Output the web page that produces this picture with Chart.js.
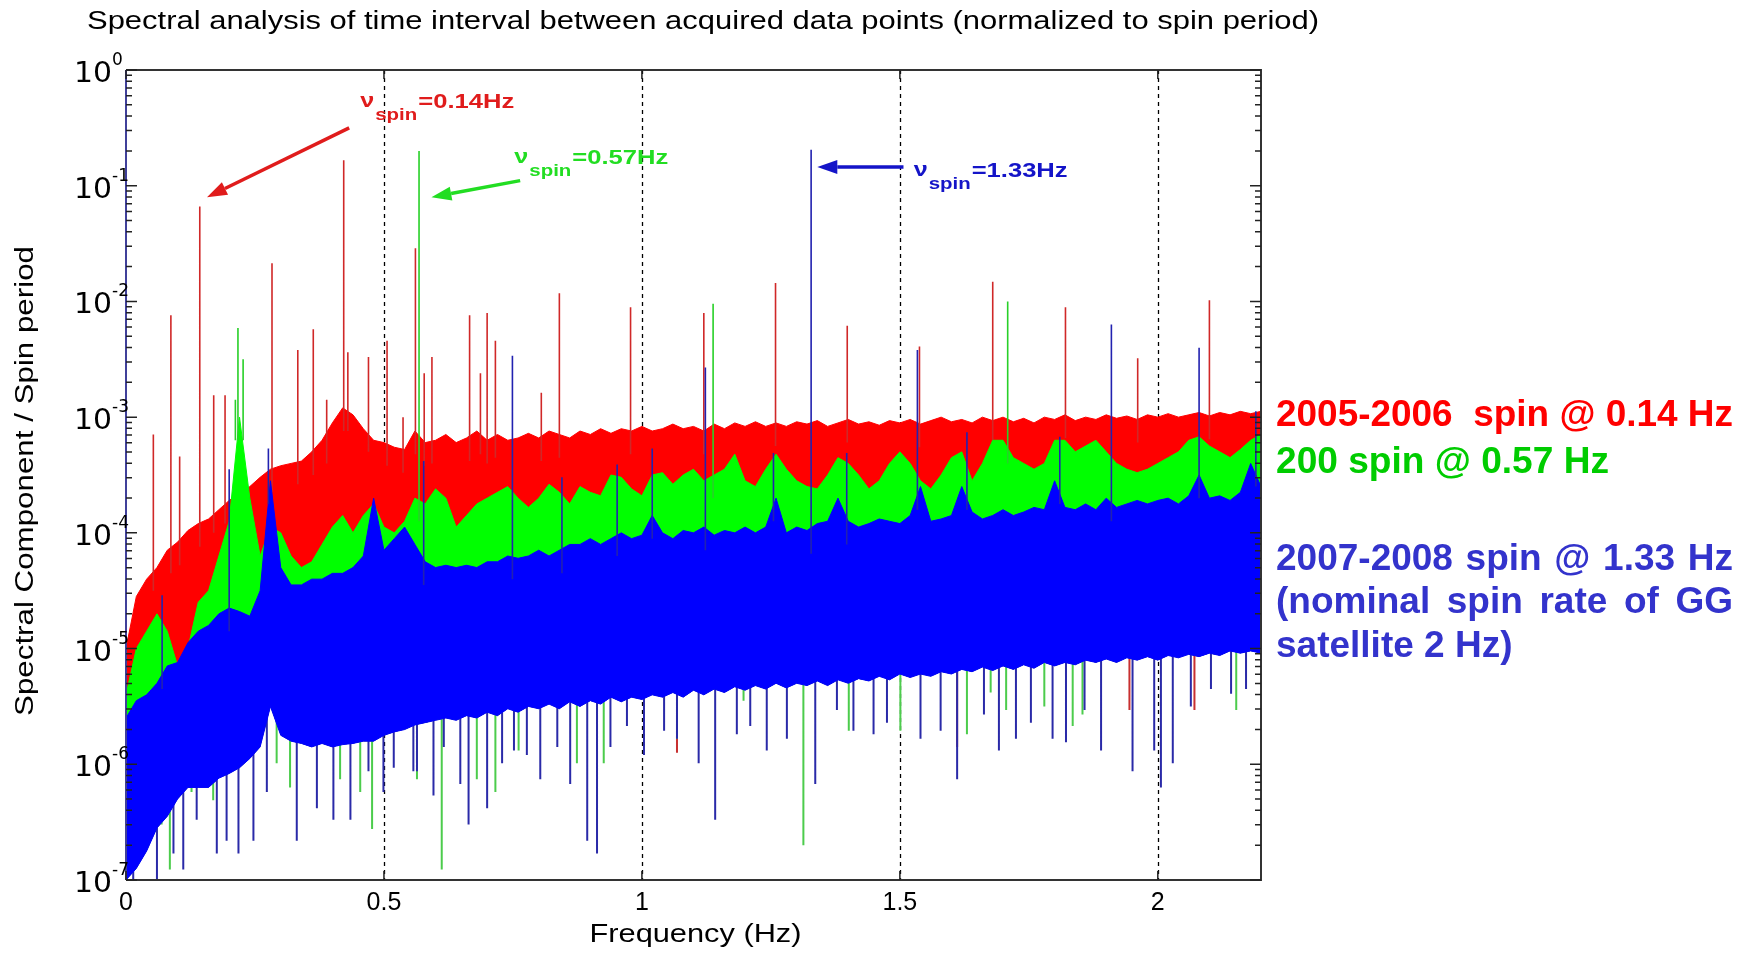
<!DOCTYPE html>
<html>
<head>
<meta charset="utf-8">
<title>Spectral analysis of time interval</title>
<script src="https://cdn.jsdelivr.net/npm/chart.js@4.4.1/dist/chart.umd.min.js"></script>
<style>
  html, body { margin: 0; padding: 0; background: #fff; }
  #wrap { position: relative; width: 1753px; height: 953px; }
</style>
</head>
<body>
<div id="wrap"><canvas id="spectrum"></canvas></div>
<script>
// Частотна сітка (Hz)
const freq = [
  0, 0.02, 0.04, 0.06, 0.08, 0.1, 0.12, 0.14, 0.16, 0.18,
  0.2, 0.22, 0.24, 0.26, 0.28, 0.3, 0.32, 0.34, 0.36, 0.38,
  0.4, 0.42, 0.44, 0.46, 0.48, 0.5, 0.52, 0.54, 0.56, 0.58,
  0.6, 0.62, 0.64, 0.66, 0.68, 0.7, 0.72, 0.74, 0.76, 0.78,
  0.8, 0.82, 0.84, 0.86, 0.88, 0.9, 0.92, 0.94, 0.96, 0.98,
  1.0, 1.02, 1.04, 1.06, 1.08, 1.1, 1.12, 1.14, 1.16, 1.18,
  1.2, 1.22, 1.24, 1.26, 1.28, 1.3, 1.32, 1.34, 1.36, 1.38,
  1.4, 1.42, 1.44, 1.46, 1.48, 1.5, 1.52, 1.54, 1.56, 1.58,
  1.6, 1.62, 1.64, 1.66, 1.68, 1.7, 1.72, 1.74, 1.76, 1.78,
  1.8, 1.82, 1.84, 1.86, 1.88, 1.9, 1.92, 1.94, 1.96, 1.98,
  2.0, 2.02, 2.04, 2.06, 2.08, 2.1, 2.12, 2.14, 2.16, 2.18,
  2.2
];

// Верхня межа спектра, log10 (2005-2006, spin 0.14 Hz)
const redTopExp = [
  -5.0, -4.55, -4.4, -4.3, -4.15, -4.08, -3.98, -3.92, -3.88, -3.8,
  -3.72, -3.66, -3.6, -3.52, -3.45, -3.42, -3.4, -3.38, -3.3, -3.2,
  -3.05, -2.92, -2.98, -3.1, -3.2, -3.22, -3.26, -3.28, -3.12, -3.22,
  -3.2, -3.15, -3.22, -3.18, -3.12, -3.2, -3.15, -3.2, -3.18, -3.14,
  -3.18, -3.12, -3.15, -3.18, -3.12, -3.15, -3.1, -3.14, -3.1, -3.12,
  -3.08, -3.12, -3.1, -3.06, -3.1, -3.08, -3.12, -3.06, -3.1, -3.05,
  -3.08, -3.04, -3.08, -3.05, -3.08, -3.04, -3.06, -3.03, -3.08, -3.05,
  -3.02, -3.06, -3.04, -3.07, -3.03, -3.05, -3.02, -3.06, -3.03, -3.0,
  -3.04, -3.02, -3.05, -3.0, -3.03, -3.0, -3.04, -3.01, -3.05, -3.0,
  -3.02, -2.98, -3.03, -3.0, -3.02, -2.98, -3.01, -2.99, -3.02, -2.98,
  -3.0, -2.97, -3.0, -2.98, -2.96, -2.99, -2.96, -2.98, -2.95, -2.97,
  -2.95
];

// Верхня межа спектра, log10 (200, spin 0.57 Hz)
const greenTopExp = [
  -5.4, -5.0, -4.85, -4.7, -4.85, -5.15, -5.0, -4.6, -4.5, -4.2,
  -3.9, -3.0, -3.7, -4.2, -3.95, -4.0, -4.2, -4.3, -4.25, -4.1,
  -3.95, -3.85, -4.0, -3.85, -3.75, -3.95, -4.0, -3.9, -3.7, -3.75,
  -3.62, -3.7, -3.95, -3.85, -3.75, -3.7, -3.65, -3.6, -3.7, -3.78,
  -3.7, -3.58, -3.65, -3.75, -3.6, -3.65, -3.68, -3.5, -3.52, -3.62,
  -3.68, -3.5, -3.48, -3.58, -3.5, -3.45, -3.55, -3.5, -3.45, -3.32,
  -3.55, -3.6, -3.45, -3.32, -3.45, -3.55, -3.6, -3.62, -3.5, -3.35,
  -3.4, -3.5, -3.62, -3.55, -3.4, -3.3, -3.4, -3.55, -3.62, -3.5,
  -3.35, -3.3, -3.55, -3.4, -3.2, -3.2, -3.35, -3.4, -3.45, -3.4,
  -3.2, -3.2, -3.3, -3.25, -3.2, -3.3, -3.4, -3.45, -3.48, -3.45,
  -3.4, -3.35, -3.3, -3.2, -3.17, -3.25, -3.3, -3.35, -3.28, -3.2,
  -3.15
];

// Верхня межа спектра, log10 (2007-2008, spin 1.33 Hz)
const blueTopExp = [
  -5.6, -5.45, -5.4, -5.3, -5.15, -5.12, -4.95, -4.85, -4.8, -4.7,
  -4.65, -4.68, -4.72, -4.5, -3.55, -4.3, -4.45, -4.45, -4.4, -4.4,
  -4.35, -4.35, -4.3, -4.2, -3.7, -4.15, -4.05, -3.95, -4.1, -4.25,
  -4.3, -4.28, -4.3, -4.28, -4.3, -4.25, -4.25, -4.2, -4.22, -4.2,
  -4.15, -4.2, -4.15, -4.1, -4.1, -4.05, -4.1, -4.05, -4.0, -4.05,
  -4.02, -3.85, -4.0, -4.05, -3.98, -4.0, -3.95, -4.02, -3.98, -4.0,
  -3.95, -4.0, -3.95, -3.7, -4.0, -3.95, -3.98, -3.92, -3.9, -3.7,
  -3.9, -3.95, -3.92, -3.88, -3.9, -3.92, -3.85, -3.6, -3.9, -3.88,
  -3.85, -3.6, -3.82, -3.88, -3.85, -3.8, -3.85, -3.82, -3.78, -3.8,
  -3.55, -3.78, -3.8, -3.75, -3.8, -3.7, -3.78, -3.75, -3.72, -3.75,
  -3.72, -3.7, -3.75, -3.68, -3.5, -3.7, -3.68, -3.72, -3.65, -3.4,
  -3.6
];

// Нижня межа суцільної смуги, log10
const blueLowExp = [
  -7.0, -6.9, -6.75, -6.55, -6.45, -6.3, -6.2, -6.2, -6.2, -6.12,
  -6.08, -6.03, -5.95, -5.85, -5.5, -5.75, -5.8, -5.82, -5.85, -5.82,
  -5.85, -5.83, -5.82, -5.8, -5.8, -5.75, -5.72, -5.7, -5.66, -5.64,
  -5.62, -5.6, -5.62, -5.58, -5.6, -5.55, -5.58, -5.52, -5.55, -5.5,
  -5.52, -5.48, -5.52, -5.46, -5.5, -5.45, -5.48, -5.42, -5.46, -5.42,
  -5.44, -5.4, -5.42, -5.38, -5.42, -5.36, -5.4, -5.35, -5.38, -5.33,
  -5.36, -5.32, -5.35, -5.3, -5.34, -5.3, -5.32, -5.28, -5.32, -5.27,
  -5.3, -5.26, -5.28, -5.24, -5.27, -5.22, -5.25, -5.22, -5.24, -5.2,
  -5.22, -5.18, -5.2, -5.16, -5.19, -5.15, -5.18, -5.14, -5.17, -5.12,
  -5.15, -5.12, -5.14, -5.1, -5.12, -5.09, -5.12, -5.08, -5.1, -5.07,
  -5.1, -5.06, -5.08, -5.05, -5.07, -5.04, -5.06, -5.02, -5.04, -5.02,
  -5.04
];

// Окремі піки [частота, log10]
const redPeaks = [
  [0.053, -3.15], [0.087, -2.12], [0.104, -3.34], [0.143, -1.18], [0.17, -2.81],
  [0.192, -2.81], [0.283, -1.67], [0.333, -2.42], [0.363, -2.24], [0.389, -2.85],
  [0.422, -0.78], [0.43, -2.44], [0.47, -2.48], [0.506, -2.34], [0.537, -3.0],
  [0.561, -1.54], [0.578, -2.62], [0.593, -2.48], [0.666, -2.12], [0.687, -2.62],
  [0.7, -2.1], [0.716, -2.34], [0.805, -2.79], [0.84, -1.93], [0.978, -2.05],
  [1.12, -2.1], [1.259, -1.84], [1.398, -2.21], [1.538, -2.39], [1.68, -1.83],
  [1.821, -2.05], [1.961, -2.49], [2.1, -1.99]
];
const greenPeaks = [
  [0.212, -2.85], [0.217, -2.23], [0.227, -2.5], [0.568, -0.7], [1.138, -2.02], [1.709, -2.0]
];
const bluePeaks = [
  [0.07, -4.54], [0.2, -3.45], [0.276, -3.27], [0.577, -3.38], [0.749, -2.47], [0.845, -3.52],
  [0.952, -3.41], [1.02, -3.27], [1.123, -2.57], [1.255, -3.31], [1.328, -0.69],
  [1.397, -3.31], [1.534, -2.42], [1.63, -3.13], [1.81, -3.17], [1.91, -2.2],
  [2.08, -2.4], [2.19, -2.95]
];

// Провали вниз [частота, log10]
const blueDips = [
  [0.014, -7.0], [0.034, -6.77], [0.06, -7.0], [0.092, -6.77], [0.111, -6.91],
  [0.137, -6.48], [0.176, -6.77], [0.195, -6.66], [0.218, -6.77], [0.247, -6.66],
  [0.273, -6.24], [0.331, -6.66], [0.37, -6.38], [0.402, -6.48], [0.435, -6.48],
  [0.47, -6.06], [0.499, -6.24], [0.519, -6.03], [0.557, -6.06], [0.564, -6.06],
  [0.596, -6.27], [0.616, -5.85], [0.648, -6.17], [0.664, -6.52], [0.7, -6.38],
  [0.729, -5.99], [0.752, -5.88], [0.777, -5.92], [0.803, -6.13], [0.836, -5.85],
  [0.861, -6.17], [0.894, -6.66], [0.913, -6.77], [0.939, -5.85], [0.971, -5.67],
  [1.004, -5.92], [1.043, -5.71], [1.068, -5.78], [1.11, -5.99], [1.142, -6.48],
  [1.184, -5.74], [1.21, -5.67], [1.242, -5.88], [1.281, -5.78], [1.336, -6.17],
  [1.378, -5.53], [1.41, -5.71], [1.449, -5.74], [1.475, -5.64], [1.54, -5.78],
  [1.579, -5.71], [1.611, -6.13], [1.663, -5.57], [1.692, -5.88], [1.725, -5.78],
  [1.754, -5.64], [1.796, -5.78], [1.822, -5.81], [1.858, -5.53], [1.89, -5.88],
  [1.951, -6.06], [1.993, -5.88], [2.006, -6.2], [2.029, -5.99], [2.064, -5.5],
  [2.103, -5.35], [2.142, -5.39], [2.171, -5.35]
];
const greenDips = [
  [0.001, -6.98], [0.069, -6.52], [0.085, -6.91], [0.127, -6.24], [0.169, -6.31],
  [0.292, -5.99], [0.318, -6.2], [0.415, -6.13], [0.454, -6.24], [0.477, -6.56],
  [0.564, -6.13], [0.612, -6.91], [0.68, -6.13], [0.716, -6.24], [0.761, -5.88],
  [0.874, -5.99], [0.926, -5.99], [1.068, -5.78], [1.197, -5.45], [1.313, -6.7],
  [1.401, -5.71], [1.501, -5.71], [1.63, -5.74], [1.676, -5.38], [1.706, -5.53],
  [1.78, -5.5], [1.835, -5.67], [1.854, -5.57], [2.152, -5.53]
];
const redDips = [
  [1.068, -5.9], [1.611, -5.85], [1.945, -5.53], [2.071, -5.53]
];

// Підписи осей
const xTickValues = [0, 0.5, 1, 1.5, 2];
const xTickLabels = ['0', '0.5', '1', '1.5', '2'];
const yDecades = [0, -1, -2, -3, -4, -5, -6, -7];

const seriesText = [
  { text: '2005-2006  spin @ 0.14 Hz', color: '#ff0000', y: 426, width: 457, justify: false },
  { text: '200 spin @ 0.57 Hz', color: '#00cc00', y: 473, width: 333, justify: false },
  { text: '2007-2008 spin @ 1.33 Hz', color: '#3333cc', y: 570, width: 457, justify: true },
  { text: '(nominal spin rate of GG', color: '#3333cc', y: 613, width: 457, justify: true },
  { text: 'satellite 2 Hz)', color: '#3333cc', y: 657, width: 0, justify: false }
];

// Стрілки з підписом частоти обертання (координати в одиницях осей)
const spinNotes = [
  { label: '=0.14Hz', color: '#e01c1c', at: [0.454, -0.32], from: [0.4326, -0.50], to: [0.157, -1.10] },
  { label: '=0.57Hz', color: '#22dd22', at: [0.7527, -0.805], from: [0.764, -0.956], to: [0.592, -1.10] },
  { label: '=1.33Hz', color: '#1414c8', at: [1.5267, -0.917], from: [1.507, -0.839], to: [1.34, -0.839] }
];

const pow10 = e => Math.pow(10, e);

function nearestIndex(f) {
  let best = 0;
  for (let i = 1; i < freq.length; i++) {
    if (Math.abs(freq[i] - f) < Math.abs(freq[best] - f)) best = i;
  }
  return best;
}

function bandPoints(exps) {
  return freq.map((f, i) => ({ x: f, y: pow10(exps[i]) }));
}

// Вертикальні штрихи від краю смуги до значення
function strokePoints(list, edge, shift) {
  const pts = [];
  list.forEach(([f, e]) => {
    const base = edge[nearestIndex(f)] + shift;
    pts.push({ x: f, y: pow10(base) }, { x: f, y: pow10(e) }, { x: f, y: null });
  });
  return pts;
}

function fitText(ctx, txt, x, y, font, color, width, align) {
  ctx.save();
  ctx.font = font;
  ctx.fillStyle = color;
  ctx.textBaseline = 'alphabetic';
  ctx.textAlign = align || 'left';
  const w = ctx.measureText(txt).width;
  const sx = width ? width / w : 1;
  ctx.translate(x, y);
  ctx.scale(sx, 1);
  ctx.fillText(txt, 0, 0);
  ctx.restore();
}

function justifyText(ctx, txt, x, y, font, color, width) {
  ctx.save();
  ctx.font = font;
  ctx.fillStyle = color;
  ctx.textBaseline = 'alphabetic';
  ctx.textAlign = 'left';
  const words = txt.split(' ');
  const total = words.reduce((s, w) => s + ctx.measureText(w).width, 0);
  const gap = (width - total) / (words.length - 1);
  let cx = x;
  words.forEach(w => {
    ctx.fillText(w, cx, y);
    cx += ctx.measureText(w).width + gap;
  });
  ctx.restore();
}

function drawArrow(ctx, x1, y1, x2, y2, color) {
  const ang = Math.atan2(y2 - y1, x2 - x1);
  const headLen = 20, headW = 7;
  const bx = x2 - headLen * Math.cos(ang), by = y2 - headLen * Math.sin(ang);
  ctx.save();
  ctx.strokeStyle = color;
  ctx.fillStyle = color;
  ctx.lineWidth = 3.5;
  ctx.beginPath();
  ctx.moveTo(x1, y1);
  ctx.lineTo(bx, by);
  ctx.stroke();
  ctx.beginPath();
  ctx.moveTo(x2, y2);
  ctx.lineTo(bx + headW * Math.sin(ang), by - headW * Math.cos(ang));
  ctx.lineTo(bx - headW * Math.sin(ang), by + headW * Math.cos(ang));
  ctx.closePath();
  ctx.fill();
  ctx.restore();
}

const decor = {
  id: 'decor',
  beforeDraw(chart) {
    const c = chart.ctx;
    c.save();
    c.fillStyle = '#fff';
    c.fillRect(0, 0, chart.width, chart.height);
    c.restore();
  },
  beforeDatasetsDraw(chart) {
    const c = chart.ctx, a = chart.chartArea, xs = chart.scales.x;
    c.save();
    c.strokeStyle = '#000';
    c.lineWidth = 1.3;
    c.setLineDash([4, 4]);
    xTickValues.forEach(v => {
      if (v === 0) return;
      const x = Math.round(xs.getPixelForValue(v)) + 0.5;
      c.beginPath();
      c.moveTo(x, a.top);
      c.lineTo(x, a.bottom);
      c.stroke();
    });
    c.restore();
  },
  afterDatasetsDraw(chart) {
    const c = chart.ctx, a = chart.chartArea;
    const xs = chart.scales.x, ys = chart.scales.y;
    c.save();
    // рамка
    c.lineWidth = 2;
    c.strokeStyle = '#333';
    c.beginPath();
    c.moveTo(a.left, a.top); c.lineTo(a.right, a.top); c.lineTo(a.right, a.bottom); c.lineTo(a.left, a.bottom);
    c.stroke();
    c.strokeStyle = '#40409a';
    c.beginPath();
    c.moveTo(a.left, a.top); c.lineTo(a.left, a.bottom);
    c.stroke();
    // поділки осі Y
    c.lineWidth = 1.5;
    c.strokeStyle = '#222';
    yDecades.forEach(k => {
      const y = ys.getPixelForValue(pow10(k));
      c.beginPath();
      c.moveTo(a.left, y); c.lineTo(a.left + 11, y);
      c.moveTo(a.right, y); c.lineTo(a.right - 11, y);
      c.stroke();
      if (k > -7) {
        for (let m = 2; m <= 9; m++) {
          const ym = ys.getPixelForValue(m * pow10(k - 1));
          c.beginPath();
          c.moveTo(a.left, ym); c.lineTo(a.left + 6, ym);
          c.moveTo(a.right, ym); c.lineTo(a.right - 6, ym);
          c.stroke();
        }
      }
    });
    // поділки осі X
    xTickValues.forEach(v => {
      const x = xs.getPixelForValue(v);
      c.beginPath();
      c.moveTo(x, a.bottom); c.lineTo(x, a.bottom - 9);
      c.moveTo(x, a.top); c.lineTo(x, a.top + 9);
      c.stroke();
    });
    c.restore();

    // підписи поділок
    xTickValues.forEach((v, i) => {
      fitText(c, xTickLabels[i], xs.getPixelForValue(v), a.bottom + 30, '25px "Liberation Sans"', '#000', 0, 'center');
    });
    yDecades.forEach(k => {
      const y = ys.getPixelForValue(pow10(k));
      fitText(c, '10', a.left - 52, y + 12, '29px "DejaVu Sans"', '#000', 38, 'left');
      fitText(c, String(k), a.left - 14, y - 5, '17px "DejaVu Sans"', '#000', 0, 'left');
    });

    // стрілки та позначки частоти обертання
    spinNotes.forEach(n => {
      const px = p => [xs.getPixelForValue(p[0]), ys.getPixelForValue(pow10(p[1]))];
      const [fx, fy] = px(n.from), [tx, ty] = px(n.to), [ax, ay] = px(n.at);
      drawArrow(c, fx, fy, tx, ty, n.color);
      fitText(c, '\u03bd', ax, ay, 'bold 21px "Liberation Sans"', n.color, 14, 'left');
      fitText(c, 'spin', ax + 15, ay + 13, 'bold 16px "Liberation Sans"', n.color, 42, 'left');
      fitText(c, n.label, ax + 58, ay + 1, 'bold 21px "Liberation Sans"', n.color, 96, 'left');
    });
  },
  afterDraw(chart) {
    const c = chart.ctx, a = chart.chartArea;
    fitText(c, 'Spectral analysis of time interval between acquired data points (normalized to spin period)',
      703, 29, '25px "Liberation Sans"', '#000', 1232, 'center');
    fitText(c, 'Frequency (Hz)', (a.left + a.right) / 2 + 2, 942, '26px "Liberation Sans"', '#000', 212, 'center');
    c.save();
    c.translate(33, 481);
    c.rotate(-Math.PI / 2);
    fitText(c, 'Spectral Component / Spin period', 0, 0, '26px "Liberation Sans"', '#000', 470, 'center');
    c.restore();
    seriesText.forEach(s => {
      const font = 'bold 37px "Liberation Sans"';
      if (s.justify) justifyText(c, s.text, 1276, s.y, font, s.color, s.width);
      else fitText(c, s.text, 1276, s.y, font, s.color, s.width, 'left');
    });
  }
};

const lineBase = { pointRadius: 0, tension: 0, fill: false, spanGaps: false };

new Chart(document.getElementById('spectrum'), {
  type: 'line',
  data: {
    datasets: [
      Object.assign({}, lineBase, { label: 'floor', data: bandPoints(blueLowExp), borderColor: '#0000ff', borderWidth: 1, order: 3 }),
      Object.assign({}, lineBase, { label: '2007-2008 spin @ 1.33 Hz', data: bandPoints(blueTopExp), borderColor: '#0000ff', backgroundColor: '#0000ff', borderWidth: 1, fill: { target: 0 }, order: 3 }),
      Object.assign({}, lineBase, { label: '200 spin @ 0.57 Hz', data: bandPoints(greenTopExp), borderColor: '#00ff00', backgroundColor: '#00ff00', borderWidth: 1, fill: { target: 0 }, order: 5 }),
      Object.assign({}, lineBase, { label: '2005-2006 spin @ 0.14 Hz', data: bandPoints(redTopExp), borderColor: '#ff0000', backgroundColor: '#ff0000', borderWidth: 1, fill: { target: 0 }, order: 7 }),
      Object.assign({}, lineBase, { label: 'red peaks', data: strokePoints(redPeaks, redTopExp, -0.2), borderColor: '#d02828', borderWidth: 1.6, order: 6 }),
      Object.assign({}, lineBase, { label: 'green peaks', data: strokePoints(greenPeaks, greenTopExp, -0.2), borderColor: '#28d028', borderWidth: 1.6, order: 4 }),
      Object.assign({}, lineBase, { label: 'blue peaks', data: strokePoints(bluePeaks, blueTopExp, -0.2), borderColor: '#2222b0', borderWidth: 1.6, order: 2 }),
      Object.assign({}, lineBase, { label: 'blue dips', data: strokePoints(blueDips, blueLowExp, 0.2), borderColor: '#2a2aa8', borderWidth: 2, order: 3.5 }),
      Object.assign({}, lineBase, { label: 'green dips', data: strokePoints(greenDips, blueLowExp, 0.2), borderColor: '#4ccc4c', borderWidth: 2, order: 4.5 }),
      Object.assign({}, lineBase, { label: 'red dips', data: strokePoints(redDips, blueLowExp, 0.2), borderColor: '#c83030', borderWidth: 2, order: 6.5 })
    ]
  },
  options: {
    responsive: true,
    maintainAspectRatio: false,
    animation: false,
    events: [],
    layout: { padding: { left: 126, right: 492, top: 70, bottom: 73 } },
    scales: {
      x: { type: 'linear', min: 0, max: 2.2, display: false },
      y: { type: 'logarithmic', min: 1e-7, max: 1, display: false }
    },
    plugins: {
      legend: { display: false },
      tooltip: { enabled: false }
    }
  },
  plugins: [decor]
});
</script>
</body>
</html>
